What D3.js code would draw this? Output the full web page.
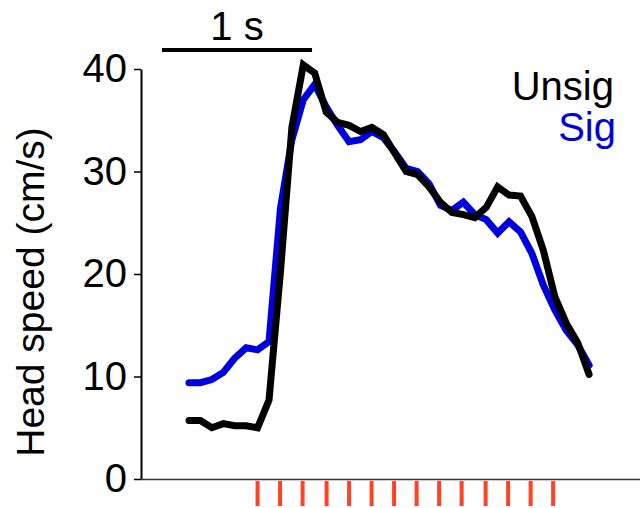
<!DOCTYPE html>
<html>
<head>
<meta charset="utf-8">
<script src="https://cdn.jsdelivr.net/npm/d3@7"></script>
<style>
  body { margin: 0; background: #fff; }
  svg { display: block; font-family: "Liberation Sans", Arial, sans-serif; }
</style>
</head>
<body>
<div class="chart"></div>
<script>
(function () {
  'use strict';

  // head speed (cm/s), sampled every ~76 ms, sample 6 = first stimulus
  var unsig = [5.7, 5.7, 5.0, 5.4, 5.2, 5.2, 5.0, 7.7, 20.2, 34.3, 40.4, 39.6,
               35.8, 34.8, 34.5, 33.9, 34.3, 33.6, 31.8, 30.0, 29.7, 28.5, 27.0, 26.0,
               25.8, 25.5, 26.5, 28.5, 27.7, 27.6, 25.6, 22.3, 17.8, 15.2, 13.3, 10.2];
  var sig = [9.4, 9.4, 9.7, 10.4, 11.8, 12.8, 12.6, 13.4, 26.4, 33.1, 37.0, 38.5,
             36.3, 34.5, 32.9, 33.1, 33.9, 33.3, 31.9, 30.3, 30.0, 28.8, 26.7, 26.2,
             27.0, 25.8, 25.3, 24.0, 25.1, 24.1, 22.0, 18.9, 16.5, 14.5, 13.1, 11.1];
  var stimTimes = [0, 0.15, 0.30, 0.46, 0.61, 0.76, 0.91, 1.06, 1.21, 1.36, 1.52, 1.67, 1.82, 1.97];
  var yTicks = [0, 10, 20, 30, 40];
  var dt = 0.0762;
  var firstStim = 6;

  var width = 640, height = 508;

  var svg = d3.select('.chart')
      .append('svg')
      .attr('width', width)
      .attr('height', height);

  var x = d3.scaleLinear().domain([-0.777, 2.549]).range([141, 640]);
  var y = d3.scaleLinear().domain([0, 40]).range([479, 69]);

  function t(i) { return (i - firstStim) * dt; }

  // y axis
  var yAxis = svg.append('g')
      .attr('transform', 'translate(141,0)')
      .call(d3.axisLeft(y).tickValues(yTicks).tickSize(7).tickPadding(7).tickSizeOuter(0));
  yAxis.select('.domain').attr('stroke', '#000').attr('stroke-width', 2);
  yAxis.selectAll('.tick line').attr('stroke', '#000').attr('stroke-width', 1.5);
  yAxis.selectAll('.tick text')
      .attr('font-size', 40)
      .attr('font-family', '"Liberation Sans", Arial, sans-serif')
      .attr('fill', '#000');

  // x axis (no ticks)
  var xAxis = svg.append('g')
      .attr('transform', 'translate(0,479)')
      .call(d3.axisBottom(x).tickValues([]).tickSizeOuter(0));
  xAxis.select('.domain').attr('stroke', '#333').attr('stroke-width', 1.5);

  svg.append('text')
      .attr('transform', 'translate(44,292) rotate(-90)')
      .attr('text-anchor', 'middle')
      .attr('font-size', 39)
      .text('Head speed (cm/s)');

  // stimulus ticks
  svg.selectAll('.stim')
      .data(stimTimes)
      .enter()
      .append('line')
      .attr('class', 'stim')
      .attr('x1', function(d) { return x(d); })
      .attr('x2', function(d) { return x(d); })
      .attr('y1', 481)
      .attr('y2', 506)
      .attr('stroke', '#ff4124')
      .attr('stroke-width', 4);

  var line = d3.line()
      .x(function(d, i) { return x(t(i)); })
      .y(function(d) { return y(d); });

  svg.append('path')
      .datum(sig)
      .attr('fill', 'none')
      .attr('stroke', '#0000dd')
      .attr('stroke-width', 7)
      .attr('stroke-linecap', 'round')
      .attr('stroke-linejoin', 'miter')
      .attr('d', line);

  svg.append('path')
      .datum(unsig)
      .attr('fill', 'none')
      .attr('stroke', '#000')
      .attr('stroke-width', 7)
      .attr('stroke-linecap', 'round')
      .attr('stroke-linejoin', 'miter')
      .attr('d', line);

  // scale bar: 1 s
  svg.append('line')
      .attr('x1', x(-0.637))
      .attr('x2', x(0.363))
      .attr('y1', 50)
      .attr('y2', 50)
      .attr('stroke', '#000')
      .attr('stroke-width', 4);
  svg.append('text')
      .attr('x', x(-0.137))
      .attr('y', 40)
      .attr('text-anchor', 'middle')
      .attr('font-size', 40)
      .text('1 s');

  // legend
  svg.append('text')
      .attr('x', 614)
      .attr('y', 100)
      .attr('text-anchor', 'end')
      .attr('font-size', 40)
      .attr('fill', '#000')
      .text('Unsig');
  svg.append('text')
      .attr('x', 616)
      .attr('y', 141)
      .attr('text-anchor', 'end')
      .attr('font-size', 40)
      .attr('fill', '#0000dd')
      .text('Sig');
}());
</script>
</body>
</html>
